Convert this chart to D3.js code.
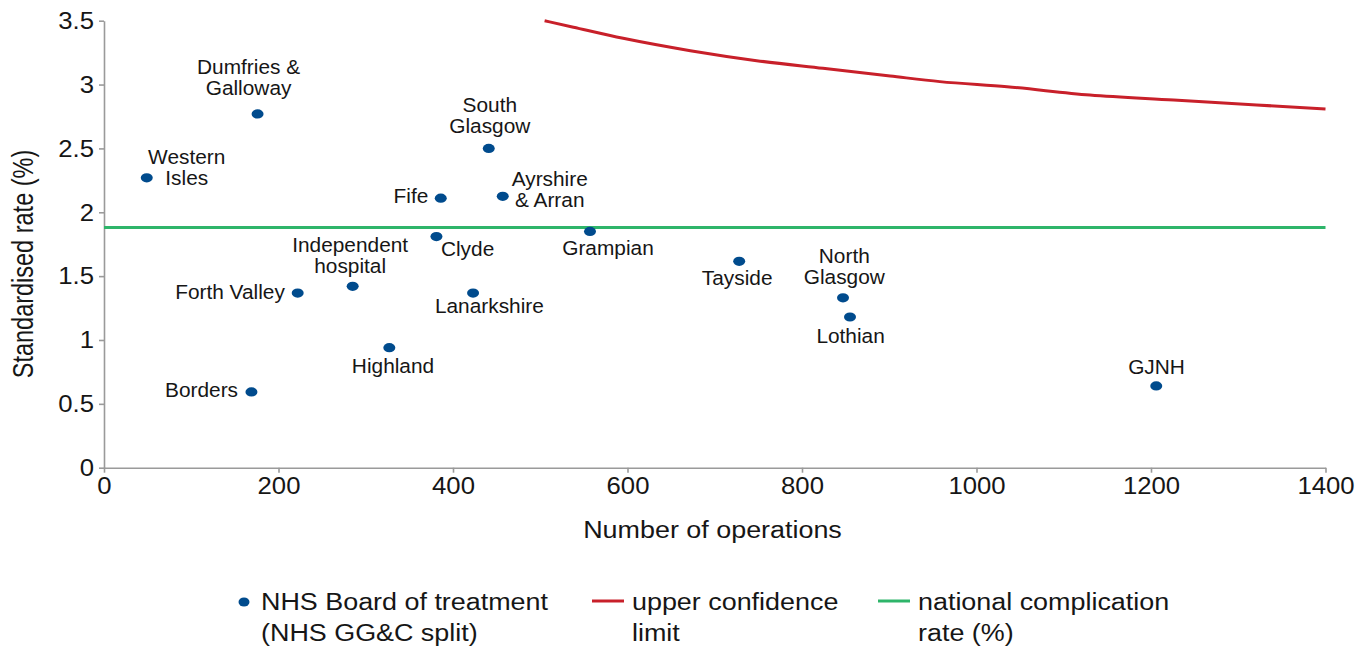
<!DOCTYPE html>
<html>
<head>
<meta charset="utf-8">
<script src="https://cdn.jsdelivr.net/npm/d3@7"></script>
<style>
  html, body { margin: 0; padding: 0; background: #fff; }
  svg { display: block; font-family: "Liberation Sans", Arial, Helvetica, sans-serif; }
</style>
</head>
<body>
<svg id="chart" width="1362" height="648"></svg>
<script>
// ---------------- data ----------------
const boards = ["Western Isles", "Dumfries & Galloway", "South Glasgow", "Fife", "Ayrshire & Arran",
  "Clyde", "Grampian", "Independent hospital", "Forth Valley", "Lanarkshire", "Highland",
  "Borders", "Tayside", "North Glasgow", "Lothian", "GJNH"];
const operations = [49, 176, 441, 386, 457, 381, 557, 285, 222, 423, 327, 169, 728, 847, 855, 1206];
const rates = [2.27, 2.77, 2.50, 2.11, 2.125, 1.81, 1.85, 1.42, 1.367, 1.367, 0.94, 0.593, 1.616, 1.33, 1.18, 0.64];

const limitOperations = [505, 538, 595, 672, 748, 824, 901, 958, 1035, 1130, 1226, 1321, 1400];
const limitRates = [3.50, 3.449, 3.362, 3.265, 3.187, 3.127, 3.067, 3.023, 2.983, 2.918, 2.879, 2.840, 2.809];

const nationalRate = 1.88;

const xTicks = [0, 200, 400, 600, 800, 1000, 1200, 1400];
const yTicks = [0, 0.5, 1, 1.5, 2, 2.5, 3, 3.5];
const xTickLabels = ["0", "200", "400", "600", "800", "1000", "1200", "1400"];
const yTickLabels = ["0", "0.5", "1", "1.5", "2", "2.5", "3", "3.5"];

const xTitle = "Number of operations";
const yTitle = "Standardised rate (%)";
const legendLabels = [["NHS Board of treatment", "(NHS GG&C split)"], ["upper confidence", "limit"], ["national complication", "rate (%)"]];

// ---------------- label layout (style only) ----------------
// [anchor, dx, dy (first baseline), lines]
const labelLayout = {
  "Western Isles": ["middle", 40, -13.3, ["Western", "Isles"]],
  "Dumfries & Galloway": ["middle", -9, -39.7, ["Dumfries &", "Galloway"]],
  "South Glasgow": ["middle", 1, -36.4, ["South", "Glasgow"]],
  "Fife": ["end", -12.5, 5, ["Fife"]],
  "Ayrshire & Arran": ["middle", 47, -10.6, ["Ayrshire", "& Arran"]],
  "Clyde": ["start", 4.5, 19.7, ["Clyde"]],
  "Grampian": ["middle", 18, 24, ["Grampian"]],
  "Independent hospital": ["middle", -2.5, -34.3, ["Independent", "hospital"]],
  "Forth Valley": ["end", -12.8, 6.3, ["Forth Valley"]],
  "Lanarkshire": ["middle", 16.3, 20.3, ["Lanarkshire"]],
  "Highland": ["middle", 3.7, 25, ["Highland"]],
  "Borders": ["end", -13.4, 5.3, ["Borders"]],
  "Tayside": ["middle", -2, 23.7, ["Tayside"]],
  "North Glasgow": ["middle", 1.3, -35, ["North", "Glasgow"]],
  "Lothian": ["middle", 0.6, 26, ["Lothian"]],
  "GJNH": ["middle", 0.3, -12.4, ["GJNH"]]
};

// ---------------- styles ----------------
const COL_DOT = "#004b8d";
const COL_RED = "#c8202a";
const COL_GREEN = "#2eb56a";
const COL_AXIS = "#9a9a9a";
const COL_TEXT = "#161616";

const svg = d3.select("#chart");
const x = d3.scaleLinear().domain([0, 1400]).range([104, 1325.5]);
const y = d3.scaleLinear().domain([0, 3.5]).range([467.7, 20.7]);

// axes
const xAxis = d3.axisBottom(x).tickValues(xTicks).tickFormat((d, i) => xTickLabels[i]).tickSize(5).tickPadding(4).tickSizeOuter(0);
const yAxis = d3.axisLeft(y).tickValues(yTicks).tickFormat((d, i) => yTickLabels[i]).tickSize(5).tickPadding(5).tickSizeOuter(0);

const gx = svg.append("g").attr("transform", `translate(0,${y(0)})`).call(xAxis);
const gy = svg.append("g").attr("transform", `translate(${x(0)},0)`).call(yAxis);
[gx, gy].forEach(g => {
  g.select(".domain").attr("stroke", COL_AXIS).attr("stroke-width", 1.6);
  g.selectAll(".tick line").attr("stroke", COL_AXIS).attr("stroke-width", 1.6);
  g.selectAll(".tick text").attr("fill", COL_TEXT).attr("font-size", 24.5)
    .attr("font-family", '"Liberation Sans", Arial, sans-serif');
});
gx.selectAll(".tick text").attr("transform", "scale(1.05,1)");
gy.selectAll(".tick text").each(function() {
  const t = d3.select(this);
  const xx = +t.attr("x");
  t.attr("x", 0).attr("transform", `translate(${xx},0) scale(1.05,1)`);
});

// helper for stretched text
function addText(parent, tx, ty, lines, size, anchor, sx, lineH) {
  const t = parent.append("text")
    .attr("transform", `translate(${tx},${ty}) scale(${sx},1)`)
    .attr("text-anchor", anchor)
    .attr("font-size", size)
    .attr("fill", COL_TEXT);
  lines.forEach((ln, i) => {
    t.append("tspan").attr("x", 0).attr("y", i * (lineH || 0)).text(ln);
  });
  return t;
}

// national rate line
svg.append("line")
  .attr("x1", x(0)).attr("x2", x(1400))
  .attr("y1", y(nationalRate)).attr("y2", y(nationalRate))
  .attr("stroke", COL_GREEN).attr("stroke-width", 3);

// upper confidence limit
const limitData = limitOperations.map((d, i) => [d, limitRates[i]]);
svg.append("path")
  .datum(limitData)
  .attr("fill", "none")
  .attr("stroke", COL_RED)
  .attr("stroke-width", 3)
  .attr("d", d3.line().x(d => x(d[0])).y(d => y(d[1])).curve(d3.curveMonotoneX));

// points
const pts = boards.map((b, i) => ({ name: b, n: operations[i], r: rates[i] }));
svg.append("g").selectAll("ellipse").data(pts).join("ellipse")
  .attr("cx", d => x(d.n)).attr("cy", d => y(d.r))
  .attr("rx", 6).attr("ry", 4.6)
  .attr("fill", COL_DOT);

// point labels
const gl = svg.append("g");
pts.forEach(d => {
  const L = labelLayout[d.name];
  addText(gl, x(d.n) + L[1], y(d.r) + L[2], L[3], 19.5, L[0], 1.07, 21);
});

// axis titles
addText(svg, 712.5, 537.7, [xTitle], 23, "middle", 1.17, 0);
svg.append("text")
  .attr("transform", "translate(32.5,264) rotate(-90) scale(1,1.22)")
  .attr("text-anchor", "middle")
  .attr("font-size", 23.5)
  .attr("fill", COL_TEXT)
  .text(yTitle);

// legend
const lg = svg.append("g");
lg.append("ellipse").attr("cx", 244).attr("cy", 602).attr("rx", 5.5).attr("ry", 4.5).attr("fill", COL_DOT);
addText(lg, 261, 609.5, legendLabels[0], 23, "start", 1.17, 31.5);
lg.append("line").attr("x1", 592).attr("x2", 624).attr("y1", 601).attr("y2", 601).attr("stroke", COL_RED).attr("stroke-width", 3);
addText(lg, 632, 609.5, legendLabels[1], 23, "start", 1.17, 31.5);
lg.append("line").attr("x1", 878).attr("x2", 910).attr("y1", 601).attr("y2", 601).attr("stroke", COL_GREEN).attr("stroke-width", 3);
addText(lg, 918, 609.5, legendLabels[2], 23, "start", 1.17, 31.5);
</script>
</body>
</html>
